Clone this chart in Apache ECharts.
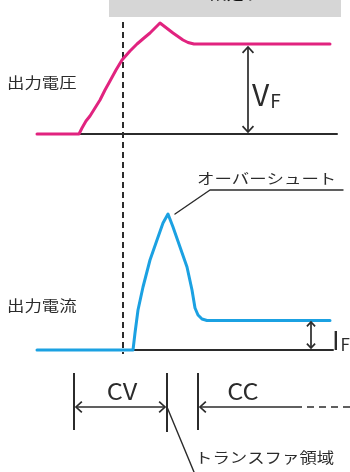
<!DOCTYPE html>
<html>
<head>
<meta charset="utf-8">
<script src="https://cdn.jsdelivr.net/npm/echarts@6/dist/echarts.min.js"></script>
<style>
    html, body { margin: 0; padding: 0; background: #fff; }
    #chart { width: 350px; height: 472px; }
</style>
</head>
<body>
<div id="chart"></div>
<script>
(function () {
    'use strict';

    // waveform points, [time, level] in drawing units
    var voltageCurve = [[37, 134], [79, 134], [82, 128], [86, 121], [90, 116], [95, 108], [100, 100], [105, 90], [110, 81], [116, 70],
        [122, 60], [130, 51], [137, 44], [144, 38], [150, 33], [160, 23], [173, 33], [183, 40], [188, 42.5], [194, 44], [330, 44]];
    var currentCurve = [[37, 350], [133, 350], [135, 333], [138, 310], [143, 287], [150, 260], [157, 240], [163, 223], [168, 214],
        [173, 227], [180, 247], [187, 267], [192, 290], [195, 308], [198, 315], [202, 319], [207, 320.5], [330, 320.5]];
    var voltageBase = [[79, 134], [337, 134]];
    var currentBase = [[133, 350], [333, 350]];

    // annotations
    var transitionMarker = [[123, 22], [123, 354]];
    var overshootLeader = [[175, 214], [210, 190], [343, 190]];
    var transferLeader = [[167, 407], [194, 472]];
    var phaseTicks = [[74, 373, 430], [167, 373, 432], [198, 373, 430]];
    var doubleArrows = [
        [[248, 47], [248, 132]],
        [[311, 322], [311, 348]],
        [[76, 407], [165, 407]]
    ];
    var singleArrows = [[[200, 407], [295, 407]]];
    var ccDashed = [[295, 407], [350, 407]];

    var labels = [
        { name: '出力電圧', value: [7, 82] },
        { name: '出力電流', value: [7, 305] },
        { name: 'オーバーシュート', value: [197, 178] },
        { name: 'トランスファ領域', value: [195, 457] }
    ];
    var bigLabels = [
        { name: 'CV', value: [122, 391] },
        { name: 'CC', value: [243, 391] }
    ];
    var subLabels = [
        { main: 'V', sub: 'F', size: [30, 19], value: [252, 110] },
        { main: 'I', sub: 'F', size: [26, 17], value: [332, 353] }
    ];

    var INK = '#2b2b2b';
    var FONT = '"Noto Sans CJK JP", "Noto Sans", sans-serif';

    var chart = echarts.init(document.getElementById('chart'), null, { renderer: 'canvas' });

    var lineSeries = function (data, color, width, z) {
        return {
            type: 'line',
            data: data,
            symbol: 'none',
            silent: true,
            z: z || 2,
            animation: false,
            lineStyle: { color: color, width: width, join: 'round', cap: 'round' }
        };
    };

    var chevron = function (api, tip, from, len) {
        var p = api.coord(tip);
        var q = api.coord(from);
        var a = Math.atan2(q[1] - p[1], q[0] - p[0]);
        var spread = 0.75;
        return {
            type: 'polyline',
            shape: {
                points: [
                    [p[0] + len * Math.cos(a - spread), p[1] + len * Math.sin(a - spread)],
                    p,
                    [p[0] + len * Math.cos(a + spread), p[1] + len * Math.sin(a + spread)]
                ]
            },
            style: { stroke: INK, lineWidth: 1.7, fill: null }
        };
    };

    var allArrows = doubleArrows.map(function (d) { return { seg: d, both: true }; })
        .concat(singleArrows.map(function (d) { return { seg: d, both: false }; }));

    var arrowSeries = {
        type: 'custom',
        silent: true,
        animation: false,
        z: 3,
        data: allArrows.map(function (d, i) { return [i]; }),
        renderItem: function (params, api) {
            var item = allArrows[params.dataIndex];
            var a = api.coord(item.seg[0]), b = api.coord(item.seg[1]);
            var len = Math.abs(b[1] - a[1]) + Math.abs(b[0] - a[0]) < 40 ? 6 : 8;
            var children = [{
                type: 'line',
                shape: { x1: a[0], y1: a[1], x2: b[0], y2: b[1] },
                style: { stroke: INK, lineWidth: 1.7 }
            }, chevron(api, item.seg[0], item.seg[1], len)];
            if (item.both) {
                children.push(chevron(api, item.seg[1], item.seg[0], len));
            }
            return { type: 'group', children: children };
        }
    };

    var tickSeries = {
        type: 'custom',
        silent: true,
        animation: false,
        data: phaseTicks,
        renderItem: function (params, api) {
            var top = api.coord([api.value(0), api.value(1)]);
            var bottom = api.coord([api.value(0), api.value(2)]);
            return {
                type: 'line',
                shape: { x1: top[0], y1: top[1], x2: bottom[0], y2: bottom[1] },
                style: { stroke: INK, lineWidth: 2 }
            };
        }
    };

    // the source drawing is stretched sideways, so text gets a scaleX
    var textSeries = function (data, size, stretch, align) {
        return {
            type: 'custom',
            silent: true,
            animation: false,
            z: 4,
            data: data,
            renderItem: function (params, api) {
                var p = api.coord([api.value(0), api.value(1)]);
                return {
                    type: 'text',
                    x: p[0],
                    y: p[1],
                    scaleX: stretch,
                    style: {
                        text: data[params.dataIndex].name,
                        fontFamily: FONT,
                        fontSize: size,
                        fill: INK,
                        align: align,
                        verticalAlign: 'middle'
                    }
                };
            }
        };
    };

    var subSeries = {
        type: 'custom',
        silent: true,
        animation: false,
        z: 4,
        data: subLabels.map(function (d) { return d.value; }),
        renderItem: function (params, api) {
            var d = subLabels[params.dataIndex];
            var p = api.coord([api.value(0), api.value(1)]);
            return {
                type: 'text',
                x: p[0],
                y: p[1],
                style: {
                    text: '{m|' + d.main + '}{s|' + d.sub + '}',
                    align: 'left',
                    verticalAlign: 'bottom',
                    rich: {
                        m: { fontFamily: FONT, fontSize: d.size[0], fill: INK, verticalAlign: 'bottom', lineHeight: d.size[0] },
                        s: { fontFamily: FONT, fontSize: d.size[1], fill: INK, verticalAlign: 'bottom', lineHeight: d.size[0], padding: [0, 0, 0, 1] }
                    }
                }
            };
        }
    };

    var option = {
        backgroundColor: '#fff',
        animation: false,
        grid: { left: 0, right: 0, top: 0, bottom: 0 },
        xAxis: { type: 'value', min: 0, max: 350, show: false },
        yAxis: { type: 'value', min: 0, max: 472, inverse: true, show: false },
        graphic: [{
            type: 'rect',
            shape: { x: 109, y: 0, width: 232, height: 17 },
            style: { fill: '#d6d6d6' },
            z: 10
        }, {
            type: 'text',
            x: 225,
            y: -7,
            style: {
                text: 'VFに設定する',
                fontFamily: FONT,
                fontSize: 17,
                fontWeight: 'bold',
                fill: '#111',
                align: 'center',
                verticalAlign: 'middle'
            },
            z: 11
        }],
        series: [
            lineSeries(voltageBase, INK, 2, 1),
            lineSeries(currentBase, INK, 2, 1),
            lineSeries(voltageCurve, '#e1237f', 3, 2),
            lineSeries(currentCurve, '#1ba1e2', 3, 2),
            {
                type: 'line',
                data: transitionMarker,
                symbol: 'none',
                silent: true,
                z: 1,
                lineStyle: { color: INK, width: 2, type: [6, 4] }
            },
            {
                type: 'line',
                data: ccDashed,
                symbol: 'none',
                silent: true,
                lineStyle: { color: INK, width: 1.7, type: [7, 5] }
            },
            lineSeries(overshootLeader, INK, 1.4, 1),
            lineSeries(transferLeader, INK, 1.4, 1),
            arrowSeries,
            tickSeries,
            textSeries(labels, 14.5, 1.2, 'left'),
            textSeries(bigLabels, 23, 1.1, 'center'),
            subSeries
        ]
    };

    chart.setOption(option);
}());
</script>
</body>
</html>
